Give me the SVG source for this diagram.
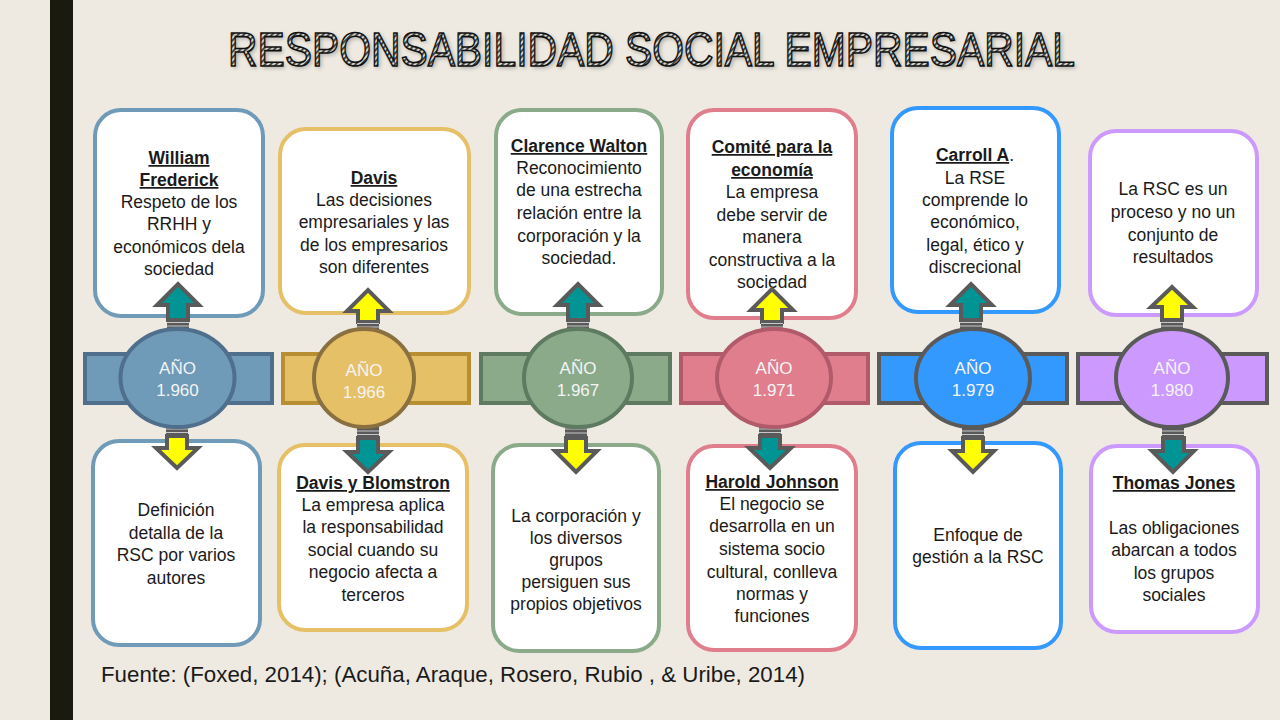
<svg xmlns="http://www.w3.org/2000/svg" width="1280" height="720" viewBox="0 0 1280 720">
<defs>
<pattern id="hatch" width="4" height="4" patternUnits="userSpaceOnUse" patternTransform="rotate(45)">
<rect width="4" height="4" fill="#d8d8d0"/>
<rect width="1.8" height="4" fill="#3a3a3a"/>
</pattern>
<filter id="sh" x="-5%" y="-20%" width="110%" height="150%">
<feGaussianBlur stdDeviation="2"/>
</filter>
</defs>
<style>
.t{font-family:"Liberation Sans",Arial,sans-serif;font-size:17.5px;fill:#1a1a1a;text-anchor:middle}
.h{font-weight:bold;text-decoration:underline}
.yr{font-family:"Liberation Sans",Arial,sans-serif;font-size:17px;fill:#f4f4f4;text-anchor:middle}
.box{fill:#ffffff;stroke-width:4}
.bar{stroke-width:4}
.ring{stroke-width:4}
.arr{stroke:#5a5a5a;stroke-width:4;stroke-linejoin:miter}
.teal{fill:#009494}
.yel{fill:#ffff00}
.str{fill:#5a5a5a}
.gap{stroke:#c8c8c8;stroke-width:1}
.c1s{stroke:#6f9ab8}.c2s{stroke:#e6c066}.c3s{stroke:#8aaa8a}.c4s{stroke:#e07e8e}.c5s{stroke:#3399ff}.c6s{stroke:#cc99ff}
</style>
<rect width="1280" height="720" fill="#eeeae1"/>
<rect x="50" y="0" width="23" height="720" fill="#1a1a0e"/>
<g id="title">
<text x="230" y="68" font-family="'Liberation Sans',Arial,sans-serif" font-size="49" textLength="847" lengthAdjust="spacingAndGlyphs" fill="#777" opacity="0.6" filter="url(#sh)">RESPONSABILIDAD SOCIAL EMPRESARIAL</text>
<text x="228" y="66" font-family="'Liberation Sans',Arial,sans-serif" font-size="49" textLength="847" lengthAdjust="spacingAndGlyphs" fill="url(#hatch)" stroke="#111" stroke-width="1.6">RESPONSABILIDAD SOCIAL EMPRESARIAL</text>
</g>

<!-- top boxes -->
<g id="top1">
<rect class="box c1s" x="95" y="110" width="168" height="206" rx="26"/>
<text class="t"><tspan class="h" x="179" y="164">William</tspan><tspan class="h" x="179" y="186">Frederick</tspan><tspan x="179" y="208">Respeto de los</tspan><tspan x="179" y="230">RRHH y</tspan><tspan x="179" y="253">económicos dela</tspan><tspan x="179" y="275">sociedad</tspan></text>
</g>
<g id="top2">
<rect class="box c2s" x="280" y="129" width="189" height="184" rx="26"/>
<text class="t"><tspan class="h" x="374" y="184">Davis</tspan><tspan x="374" y="206">Las decisiones</tspan><tspan x="374" y="228">empresariales y las</tspan><tspan x="374" y="251">de los empresarios</tspan><tspan x="374" y="273">son diferentes</tspan></text>
</g>
<g id="top3">
<rect class="box c3s" x="496" y="110" width="166" height="204" rx="26"/>
<text class="t"><tspan class="h" x="579" y="152">Clarence Walton</tspan><tspan x="579" y="174">Reconocimiento</tspan><tspan x="579" y="196">de una estrecha</tspan><tspan x="579" y="219">relación entre la</tspan><tspan x="579" y="242">corporación y la</tspan><tspan x="579" y="264">sociedad.</tspan></text>
</g>
<g id="top4">
<rect class="box c4s" x="688" y="110" width="168" height="208" rx="26"/>
<text class="t"><tspan class="h" x="772" y="153">Comité para la</tspan><tspan class="h" x="772" y="176">economía</tspan><tspan x="772" y="198">La empresa</tspan><tspan x="772" y="221">debe servir de</tspan><tspan x="772" y="243">manera</tspan><tspan x="772" y="266">constructiva a la</tspan><tspan x="772" y="288">sociedad</tspan></text>
</g>
<g id="top5">
<rect class="box c5s" x="892" y="108" width="167" height="204" rx="26"/>
<text class="t"><tspan x="975" y="161"><tspan class="h">Carroll A</tspan>.</tspan><tspan x="975" y="184">La RSE</tspan><tspan x="975" y="206">comprende lo</tspan><tspan x="975" y="228">económico,</tspan><tspan x="975" y="251">legal, ético y</tspan><tspan x="975" y="273">discrecional</tspan></text>
</g>
<g id="top6">
<rect class="box c6s" x="1090" y="131" width="167" height="184" rx="26"/>
<text class="t"><tspan x="1173" y="195">La RSC es un</tspan><tspan x="1173" y="218">proceso y no un</tspan><tspan x="1173" y="241">conjunto de</tspan><tspan x="1173" y="263">resultados</tspan></text>
</g>

<!-- bottom boxes -->
<g id="bot1">
<rect class="box c1s" x="93" y="441" width="167" height="204" rx="26"/>
<text class="t"><tspan x="176" y="516">Definición</tspan><tspan x="176" y="539">detalla de la</tspan><tspan x="176" y="561">RSC por varios</tspan><tspan x="176" y="584">autores</tspan></text>
</g>
<g id="bot2">
<rect class="box c2s" x="279" y="445" width="188" height="185" rx="26"/>
<text class="t"><tspan class="h" x="373" y="489">Davis y Blomstron</tspan><tspan x="373" y="511">La empresa aplica</tspan><tspan x="373" y="533">la responsabilidad</tspan><tspan x="373" y="556">social cuando su</tspan><tspan x="373" y="578">negocio afecta a</tspan><tspan x="373" y="601">terceros</tspan></text>
</g>
<g id="bot3">
<rect class="box c3s" x="493" y="445" width="166" height="206" rx="26"/>
<text class="t"><tspan x="576" y="522">La corporación y</tspan><tspan x="576" y="544">los diversos</tspan><tspan x="576" y="566">grupos</tspan><tspan x="576" y="588">persiguen sus</tspan><tspan x="576" y="610">propios objetivos</tspan></text>
</g>
<g id="bot4">
<rect class="box c4s" x="688" y="446" width="168" height="204" rx="26"/>
<text class="t"><tspan class="h" x="772" y="488">Harold Johnson</tspan><tspan x="772" y="510">El negocio se</tspan><tspan x="772" y="532">desarrolla en un</tspan><tspan x="772" y="555">sistema socio</tspan><tspan x="772" y="578">cultural, conlleva</tspan><tspan x="772" y="600">normas y</tspan><tspan x="772" y="622">funciones</tspan></text>
</g>
<g id="bot5">
<rect class="box c5s" x="895" y="443" width="166" height="205" rx="26"/>
<text class="t"><tspan x="978" y="541">Enfoque de</tspan><tspan x="978" y="563">gestión a la RSC</tspan></text>
</g>
<g id="bot6">
<rect class="box c6s" x="1091" y="446" width="167" height="186" rx="26"/>
<text class="t"><tspan class="h" x="1174" y="489">Thomas Jones</tspan><tspan x="1174" y="534">Las obligaciones</tspan><tspan x="1174" y="556">abarcan a todos</tspan><tspan x="1174" y="579">los grupos</tspan><tspan x="1174" y="601">sociales</tspan></text>
</g>

<!-- connectors (arrows) -->
<g id="connectors">
<!-- col1 -->
<polygon class="arr teal" points="168,320 168,305 157,305 178,284 199,305 188,305 188,320"/>
<rect class="str" x="167" y="319" width="22" height="11"/><line class="gap" x1="167" y1="322.5" x2="189" y2="322.5"/><line class="gap" x1="167" y1="326" x2="189" y2="326"/>
<polygon class="arr yel" points="167,436 167,448 156,448 177,468 198,448 187,448 187,436"/>
<rect class="str" x="166" y="425" width="22" height="11"/><line class="gap" x1="166" y1="429" x2="188" y2="429"/><line class="gap" x1="166" y1="432.5" x2="188" y2="432.5"/>
<!-- col2 -->
<polygon class="arr yel" points="358,322 358,311 347,311 368,290 389,311 378,311 378,322"/>
<rect class="str" x="357" y="320" width="22" height="10"/><line class="gap" x1="357" y1="323.5" x2="379" y2="323.5"/><line class="gap" x1="357" y1="327" x2="379" y2="327"/>
<polygon class="arr teal" points="358,438 358,452 347,452 368,472 389,452 378,452 378,438"/>
<rect class="str" x="357" y="427" width="22" height="11"/><line class="gap" x1="357" y1="431" x2="379" y2="431"/><line class="gap" x1="357" y1="434.5" x2="379" y2="434.5"/>
<!-- col3 -->
<polygon class="arr teal" points="568,320 568,305 557,305 578,284 599,305 588,305 588,320"/>
<rect class="str" x="567" y="319" width="22" height="11"/><line class="gap" x1="567" y1="322.5" x2="589" y2="322.5"/><line class="gap" x1="567" y1="326" x2="589" y2="326"/>
<polygon class="arr yel" points="566,438 566,451 555,451 576,472 597,451 586,451 586,438"/>
<rect class="str" x="565" y="425" width="22" height="13"/><line class="gap" x1="565" y1="429" x2="587" y2="429"/><line class="gap" x1="565" y1="433" x2="587" y2="433"/>
<!-- col4 -->
<polygon class="arr yel" points="762,322 762,310 751,310 772,289 793,310 782,310 782,322"/>
<rect class="str" x="761" y="320" width="22" height="10"/><line class="gap" x1="761" y1="323.5" x2="783" y2="323.5"/><line class="gap" x1="761" y1="327" x2="783" y2="327"/>
<polygon class="arr teal" points="760,436 760,448 749,448 770,468 791,448 780,448 780,436"/>
<rect class="str" x="759" y="425" width="22" height="11"/><line class="gap" x1="759" y1="429" x2="781" y2="429"/><line class="gap" x1="759" y1="432.5" x2="781" y2="432.5"/>
<!-- col5 -->
<polygon class="arr teal" points="961,320 961,305 950,305 971,284 992,305 981,305 981,320"/>
<rect class="str" x="960" y="319" width="22" height="11"/><line class="gap" x1="960" y1="322.5" x2="982" y2="322.5"/><line class="gap" x1="960" y1="326" x2="982" y2="326"/>
<polygon class="arr yel" points="963,438 963,451 952,451 973,472 994,451 983,451 983,438"/>
<rect class="str" x="962" y="427" width="22" height="11"/><line class="gap" x1="962" y1="431" x2="984" y2="431"/><line class="gap" x1="962" y1="434.5" x2="984" y2="434.5"/>
<!-- col6 -->
<polygon class="arr yel" points="1162,320 1162,307 1151,307 1172,287 1193,307 1182,307 1182,320"/>
<rect class="str" x="1161" y="319" width="22" height="11"/><line class="gap" x1="1161" y1="322.5" x2="1183" y2="322.5"/><line class="gap" x1="1161" y1="326" x2="1183" y2="326"/>
<polygon class="arr teal" points="1163,438 1163,451 1152,451 1173,472 1194,451 1184,451 1184,438"/>
<rect class="str" x="1162" y="427" width="22" height="11"/><line class="gap" x1="1162" y1="431" x2="1184" y2="431"/><line class="gap" x1="1162" y1="434.5" x2="1184" y2="434.5"/>
</g>

<!-- year hubs -->
<g id="year1">
<rect class="bar" x="85" y="354" width="187" height="49" fill="#6f9ab8" stroke="#4f6f8c"/>
<ellipse class="ring" cx="177.5" cy="378" rx="57" ry="49" fill="#6f9ab8" stroke="#4f6f8c"/>
<text class="yr"><tspan x="177.5" y="374">AÑO</tspan><tspan x="177.5" y="396">1.960</tspan></text>
</g>
<g id="year2">
<rect class="bar" x="283" y="354" width="186" height="49" fill="#e6c066" stroke="#b88e32"/>
<ellipse class="ring" cx="364" cy="378" rx="50" ry="49" fill="#e6c066" stroke="#8a7040"/>
<text class="yr"><tspan x="364" y="376">AÑO</tspan><tspan x="364" y="398">1.966</tspan></text>
</g>
<g id="year3">
<rect class="bar" x="481" y="354" width="189" height="49" fill="#8aaa8a" stroke="#5e7a60"/>
<ellipse class="ring" cx="578" cy="378" rx="54" ry="49" fill="#8aaa8a" stroke="#5e7a60"/>
<text class="yr"><tspan x="578" y="374">AÑO</tspan><tspan x="578" y="396">1.967</tspan></text>
</g>
<g id="year4">
<rect class="bar" x="681" y="354" width="187" height="49" fill="#e07e8e" stroke="#b05a6a"/>
<ellipse class="ring" cx="774" cy="378" rx="57" ry="49" fill="#e07e8e" stroke="#b05a6a"/>
<text class="yr"><tspan x="774" y="374">AÑO</tspan><tspan x="774" y="396">1.971</tspan></text>
</g>
<g id="year5">
<rect class="bar" x="879" y="354" width="188" height="49" fill="#3399ff" stroke="#5a5a5a"/>
<ellipse class="ring" cx="973" cy="378" rx="57" ry="49" fill="#3399ff" stroke="#5a5a5a"/>
<text class="yr"><tspan x="973" y="374">AÑO</tspan><tspan x="973" y="396">1.979</tspan></text>
</g>
<g id="year6">
<rect class="bar" x="1078" y="354" width="189" height="49" fill="#cc99ff" stroke="#5a5a5a"/>
<ellipse class="ring" cx="1172" cy="378" rx="56" ry="49" fill="#cc99ff" stroke="#5a5a5a"/>
<text class="yr"><tspan x="1172" y="374">AÑO</tspan><tspan x="1172" y="396">1.980</tspan></text>
</g>

<g id="footer">
<text x="101" y="682" font-family="'Liberation Sans',Arial,sans-serif" font-size="22" fill="#1a1a1a" textLength="704" lengthAdjust="spacingAndGlyphs">Fuente: (Foxed, 2014); (Acuña, Araque, Rosero, Rubio , &amp; Uribe, 2014)</text>
</g>
</svg>
